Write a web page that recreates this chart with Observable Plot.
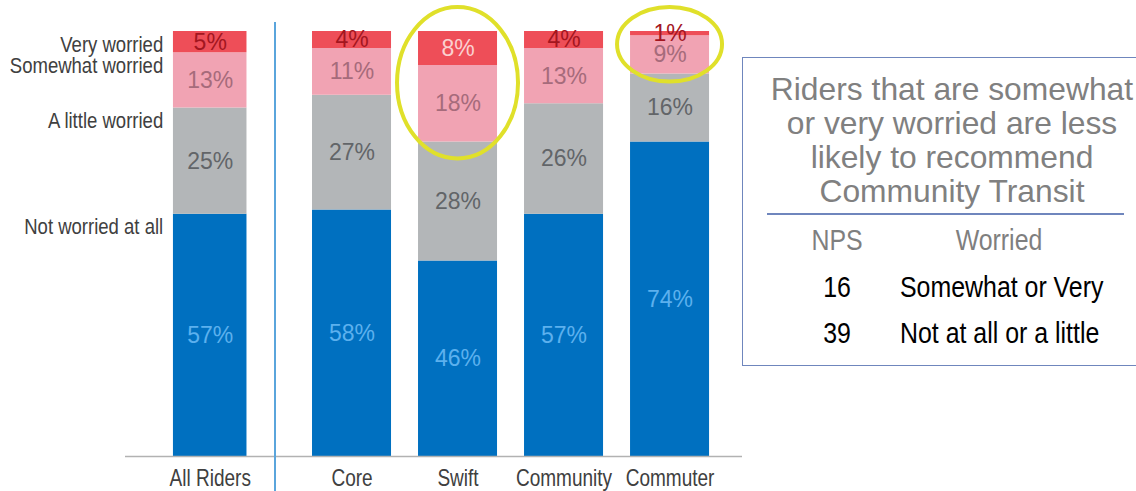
<!DOCTYPE html>
<html>
<head>
<meta charset="utf-8">
<script src="https://cdn.jsdelivr.net/npm/d3@7"></script>
<script src="https://cdn.jsdelivr.net/npm/@observablehq/plot@0.6"></script>
<style>
  html, body { margin: 0; padding: 0; background: #fff; overflow: hidden; width: 1136px; height: 491px; }
  #stage { position: relative; width: 1136px; height: 491px; }
  #plotA, #plotB { position: absolute; top: 0; }
  #plotA { left: 0; }
  #plotB { left: 275px; }
  #sep { position: absolute; left: 274px; top: 22px; width: 1.5px; height: 469px; background: #5aa5dc; }
  #box { position: absolute; left: 742px; top: 57px; width: 420px; height: 309px; border: 1.5px solid #6f86bd; box-sizing: border-box; }
  #boxTitle { position: absolute; left: 0; top: 14px; width: 100%; text-align: center; font-family: "Liberation Sans", Arial, sans-serif; font-size: 31.8px; line-height: 34px; color: #808080; white-space: nowrap; }
  #divider { position: absolute; left: 24px; top: 155px; width: 357px; height: 1.5px; background: #6f86bd; }
  .cell { position: absolute; font-family: "Liberation Sans", Arial, sans-serif; font-size: 30px; line-height: 34px; white-space: nowrap; }
  .hdr { color: #7f7f7f; }
  .val { color: #000; }
</style>
</head>
<body>
<div id="stage">
  <div id="plotA"></div>
  <div id="plotB"></div>
  <div id="sep"></div>
  <div id="box">
    <div id="boxTitle"></div>
    <div id="divider"></div>
  </div>
</div>
<script>
// ---- data ----
const categories = ["All Riders", "Core", "Swift", "Community", "Commuter"];
const levels = ["Not worried at all", "A little worried", "Somewhat worried", "Very worried"];
const notWorried      = [57, 58, 46, 57, 74];
const littleWorried   = [25, 27, 28, 26, 16];
const somewhatWorried = [13, 11, 18, 13, 9];
const veryWorried     = [5, 4, 8, 4, 1];
const highlighted = ["Swift", "Commuter"];

const boxTitleLines = ["Riders that are somewhat", "or very worried are less", "likely to recommend", "Community Transit"];
const npsHeader = ["NPS", "Worried"];
const npsScores = [16, 39];
const npsGroups = ["Somewhat or Very", "Not at all or a little"];

// ---- build table ----
const seriesValues = [notWorried, littleWorried, somewhatWorried, veryWorried];
const rows = [];
categories.forEach((cat, i) => {
  levels.forEach((level, j) => rows.push({cat, level, value: seriesValues[j][i]}));
});

// ---- styles ----
const barColors = ["#0070C0", "#B3B6B8", "#F1A3B3", "#EE4E58"];
const labelColors = {"Not worried at all": "#5cb0ee", "A little worried": "#626568", "Somewhat worried": "#a66b7b", "Very worried": "#a3161f"};
const NARROW = 0.82; // horizontal compression emulating a narrow typeface
const narrow = '"Liberation Sans Narrow", "Liberation Sans", Arial, sans-serif';
const sans = '"Liberation Sans", Arial, sans-serif';
const labelFill = d => (d.level === "Very worried" && d.value >= 8) ? "#fbd0d0" : labelColors[d.level];

const common = {
  height: 491,
  marginTop: 31,
  marginBottom: 35,
  y: {domain: [0, 100], axis: null},
  color: {domain: levels, range: barColors},
  style: {background: "transparent", overflow: "visible"}
};

function marks(data) {
  return [
    Plot.barY(data, {x: "cat", y: "value", fill: "level"}),
    Plot.text(data, Plot.stackY({x: "cat", y: "value", text: d => d.value + "%", fill: labelFill, fontSize: 23, fontFamily: sans})),
    Plot.ruleY([0], {stroke: "#b2b2b2", strokeWidth: 1.5}),
    Plot.axisX({tickSize: 0, tickPadding: 13, fontSize: 23.2, fontFamily: narrow, fill: "#404040", label: null})
  ];
}

const allRows = rows.filter(d => d.cat === categories[0]);
const modeRows = rows.filter(d => d.cat !== categories[0]);

const chartA = Plot.plot({
  ...common,
  width: 275,
  marginLeft: 125,
  marginRight: 0,
  x: {domain: [categories[0]], paddingInner: 0.3, paddingOuter: 0.364, align: 0.627, round: false},
  marks: [
    ...marks(allRows),
    Plot.text(allRows, Plot.stackY2({x: "cat", y: "value", text: "level", textAnchor: "end", lineAnchor: "top", dx: -47, dy: 4, fontSize: 22.6, fontFamily: narrow, fill: "#404040"}))
  ]
});
document.getElementById("plotA").appendChild(chartA);

const chartB = Plot.plot({
  ...common,
  width: 467,
  marginLeft: 0,
  marginRight: 0,
  x: {domain: categories.slice(1), paddingInner: 0.2547, paddingOuter: 0.330, align: 0.529, round: false},
  marks: marks(modeRows)
});
document.getElementById("plotB").appendChild(chartB);

// emulate the narrow typeface: compress glyphs of the "narrow" texts
function compress(root) {
  root.querySelectorAll("g[font-family]").forEach(g => {
    if (!g.getAttribute("font-family").includes("Narrow")) return;
    g.querySelectorAll("text").forEach(t => {
      const w = t.getComputedTextLength();
      t.setAttribute("textLength", w * NARROW);
      t.setAttribute("lengthAdjust", "spacingAndGlyphs");
    });
  });
}
compress(chartA);
compress(chartB);

// highlight ellipses around the worried segments, via the chart's scales
const sx = chartB.scale("x"), sy = chartB.scale("y");
const ellipsePad = {Swift: {x: 21, top: 24, bottom: 17}, Commuter: {x: 13, top: 24, bottom: 8}};
const svgB = d3.select(chartB.tagName.toLowerCase() === "svg" ? chartB : chartB.querySelector("svg"));
highlighted.forEach(cat => {
  const i = categories.indexOf(cat);
  const lower = notWorried[i] + littleWorried[i];
  const upper = lower + somewhatWorried[i] + veryWorried[i];
  const p = ellipsePad[cat];
  const cx = sx.apply(cat) + sx.bandwidth / 2;
  const top = sy.apply(upper) - p.top, bottom = sy.apply(lower) + p.bottom;
  svgB.append("ellipse")
    .attr("cx", cx).attr("cy", (top + bottom) / 2)
    .attr("rx", sx.bandwidth / 2 + p.x).attr("ry", (bottom - top) / 2)
    .attr("fill", "none").attr("stroke", "#e0e02a").attr("stroke-width", 4);
});

// NPS box
document.getElementById("boxTitle").innerHTML = boxTitleLines.join("<br>");
const box = document.getElementById("box");
function cell(text, cls, left, top, anchor) {
  const el = document.createElement("div");
  el.className = "cell " + cls;
  el.textContent = text;
  el.style.top = top + "px";
  el.style.left = left + "px";
  if (anchor === "middle") { el.style.transform = `translateX(-50%) scaleX(${NARROW + 0.01})`; el.style.transformOrigin = "center"; }
  else { el.style.transform = `scaleX(${NARROW + 0.01})`; el.style.transformOrigin = "left"; }
  box.appendChild(el);
}
cell(npsHeader[0], "hdr", 94, 165, "middle");
cell(npsHeader[1], "hdr", 256, 165, "middle");
npsScores.forEach((s, k) => {
  cell(String(s), "val", 94, 212 + k * 46, "middle");
  cell(npsGroups[k], "val", 157, 212 + k * 46, "start");
});
</script>
</body>
</html>
